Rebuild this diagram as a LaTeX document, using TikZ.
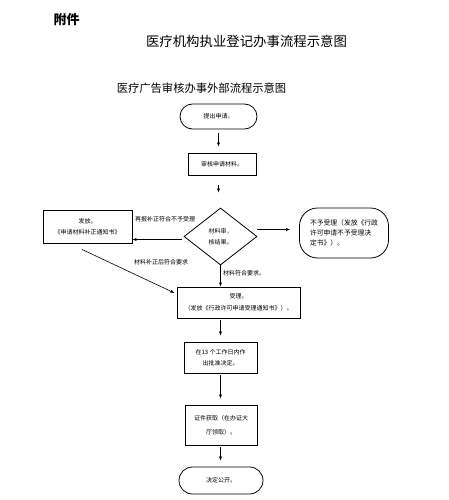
\documentclass[tikz,border=0pt]{standalone}
\usepackage{fontspec}
\setmainfont{Noto Sans CJK SC}
\usetikzlibrary{shapes.geometric,arrows.meta,positioning,calc}
\tikzset{
  procbox/.style={draw, line width=0.9pt, inner sep=1pt, align=center, font=\fontsize{6}{11}\selectfont},
  termbox/.style={draw, line width=0.8pt, align=center, font=\fontsize{6}{10}\selectfont},
  flow/.style={-{Latex[length=4pt,width=3.2pt]}, line width=0.6pt},
  note/.style={font=\fontsize{6}{8}\selectfont, inner sep=0pt}
}

\begin{document}
\begin{tikzpicture}[x=1pt,y=-1pt]
\useasboundingbox (0,0) rectangle (449,500);
% Headings
\node[font=\fontsize{13}{15}\selectfont\bfseries] (annex) at (66.5,20) {附件};
\node[font=\fontsize{13.4}{15}\selectfont] (title) at (246.5,41) {医疗机构执业登记办事流程示意图};
\node[font=\fontsize{11.3}{13}\selectfont] (subtitle) at (201.5,88) {医疗广告审核办事外部流程示意图};
% Main column
\node[termbox, rounded corners=12.5pt, minimum width=77pt, minimum height=25pt] (apply) at (218.5,116.5) {提出申请。};
\node[procbox, minimum width=68pt, minimum height=22pt] (check) at (222,164) {审核申请材料。};
\node[draw, diamond, line width=0.8pt, inner sep=0pt, minimum width=73pt, minimum height=57pt, align=center, font=\fontsize{6}{11}\selectfont] (result) at (220.5,236.5) {材料审，\\核结果。};
\node[procbox, minimum width=123pt, minimum height=31pt, font=\fontsize{6}{12}\selectfont] (accept) at (238.5,302.5) {受理。\\（发放《行政许可申请受理通知书》）。};
\node[procbox, minimum width=73pt, minimum height=31pt] (decide) at (220.5,357.5) {在13 个工作日内作\\出批准决定。};
\node[procbox, minimum width=72pt, minimum height=40pt, font=\fontsize{6}{14}\selectfont] (cert) at (221,425) {证件获取（在办证大\\厅领取）。};
\node[termbox, rounded corners=13.5pt, minimum width=84pt, minimum height=27pt] (publish) at (221,480.5) {决定公开。};
% Side boxes
\node[procbox, minimum width=89pt, minimum height=33pt, font=\fontsize{6}{11}\selectfont] (amend) at (87.5,226.5) {发放。\\《申请材料补正通知书》};
\node[termbox, rounded corners=18pt, minimum width=89pt, minimum height=50pt, align=left, font=\fontsize{6.8}{10}\selectfont] (refuse) at (344,233) {不予受理（发放《行政\\许可申请不予受理决\\定书》）。};
% Connectors
\draw[flow, shorten <=4pt, shorten >=6pt] (apply.south) -- (apply.south |- check.north);
\draw[flow, shorten <=10pt, shorten >=15pt] (check.south -| apply.south) -- (result.north -| apply.south);
\draw[flow, shorten <=2pt] ([yshift=-3pt]result.west) -- ([yshift=-3pt]result.west -| amend.east);
\draw[flow, shorten >=9pt] ([yshift=7pt]result.east) -- ([yshift=7pt]result.east -| refuse.west);
\draw[flow] ([xshift=-5.5pt,yshift=-6pt]amend.south) -- ([xshift=-2pt,yshift=9.5pt]accept.west);
\draw[flow] (result.south) -- (result.south |- accept.north);
\foreach \a/\b in {accept/decide, decide/cert, cert/publish}
    \draw[flow, shorten <=2pt, shorten >=6pt] (\a.south -| result.south) -- (\b.north -| result.south);
% Connector labels
\node[note, anchor=west] (resubmit) at (135,219) {再报补正符合不予受理};
\node[note] (amended) at (161,262) {材料补正后符合要求};
\node[note, anchor=west] (fine) at (223,273) {材料符合要求。};
\end{tikzpicture}
\end{document}
